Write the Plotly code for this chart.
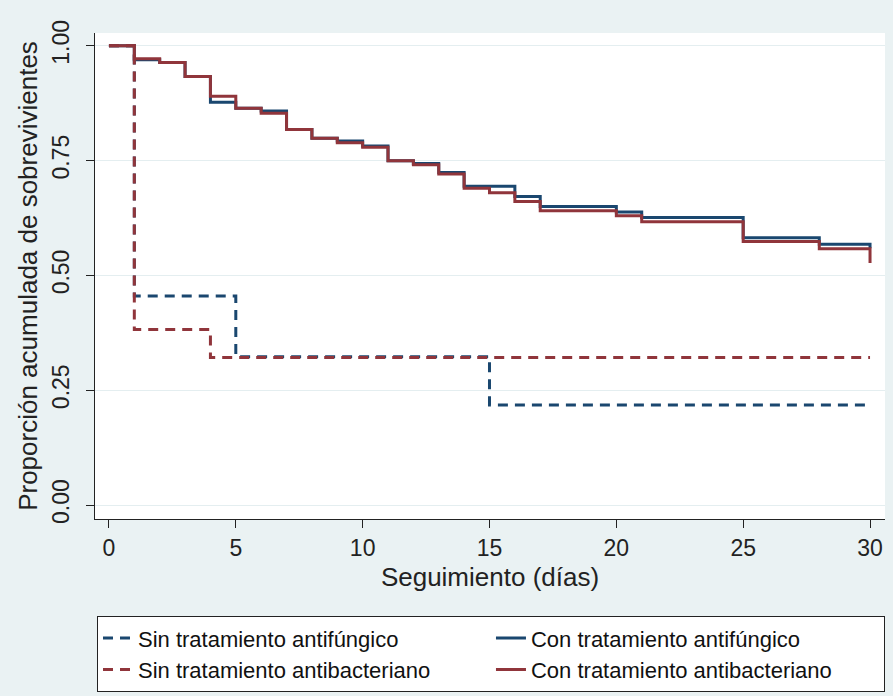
import plotly.graph_objects as go

# Kaplan-Meier estimates
t_sin_af = [0, 1, 5, 15, 30]
s_sin_af = [1.0, 0.455, 0.323, 0.218, 0.218]

t_con_af = [0, 1, 2, 3, 4, 5, 6, 7, 8, 9, 10, 11, 12, 13, 14, 16, 17, 20, 21, 25, 28, 30]
s_con_af = [1.0, 0.970, 0.964, 0.933, 0.877, 0.864, 0.858, 0.818, 0.799, 0.793, 0.782,
            0.750, 0.744, 0.724, 0.694, 0.672, 0.650, 0.638, 0.626, 0.582, 0.568, 0.559]

t_sin_ab = [0, 1, 4, 30]
s_sin_ab = [1.0, 0.382, 0.321, 0.321]

t_con_ab = [0, 1, 2, 3, 4, 5, 6, 7, 8, 9, 10, 11, 12, 13, 14, 15, 16, 17, 20, 21, 25, 28, 30]
s_con_ab = [1.0, 0.972, 0.964, 0.933, 0.890, 0.864, 0.853, 0.818, 0.799, 0.789, 0.779,
            0.750, 0.741, 0.721, 0.690, 0.680, 0.661, 0.641, 0.630, 0.617, 0.574, 0.558, 0.527]

names = ["Sin tratamiento antifúngico", "Con tratamiento antifúngico",
         "Sin tratamiento antibacteriano", "Con tratamiento antibacteriano"]

x_ticks = [0, 5, 10, 15, 20, 25, 30]
y_ticks = [0.0, 0.25, 0.5, 0.75, 1.0]
y_ticklabels = ["0.00", "0.25", "0.50", "0.75", "1.00"]

NAVY = "#1a476f"
MAROON = "#90353b"
BG = "#eaf2f3"
FONT = "Liberation Sans, Arial, sans-serif"

fig = go.Figure()
series = [
    (t_sin_af, s_sin_af, NAVY, "10px,7px", names[0]),
    (t_con_af, s_con_af, NAVY, "solid", names[1]),
    (t_sin_ab, s_sin_ab, MAROON, "10px,7px", names[2]),
    (t_con_ab, s_con_ab, MAROON, "solid", names[3]),
]
for t, s, c, d, n in series:
    fig.add_trace(go.Scatter(x=t, y=s, mode="lines", name=n,
                             line=dict(color=c, width=3, dash=d, shape="hv")))

fig.update_layout(
    width=893, height=696,
    margin=dict(l=95, r=8, t=33, b=177, autoexpand=False),
    paper_bgcolor=BG, plot_bgcolor="white",
    font=dict(family=FONT, color="#222222", size=23),
    showlegend=True,
    legend=dict(orientation="h", x=0.0025, xanchor="left", y=-0.200, yanchor="top",
                bgcolor="white", bordercolor="#222222", borderwidth=1,
                font=dict(size=22, family=FONT, color="#111111"),
                entrywidth=348, entrywidthmode="pixels", traceorder="normal",
                itemclick=False),
    xaxis=dict(range=[-0.55, 30.59], tickvals=x_ticks, ticks="outside", ticklen=8,
               tickcolor="#222222", showline=True, linecolor="#222222", linewidth=1,
               showgrid=False, zeroline=False, tickfont=dict(size=23),
               title=dict(text="Seguimiento (días)", font=dict(size=26), standoff=8)),
    yaxis=dict(range=[-0.0305, 1.028], tickvals=y_ticks, ticktext=y_ticklabels,
               tickangle=-90, ticks="outside", ticklen=8, tickcolor="#222222",
               ticklabelstandoff=8,
               showline=True, linecolor="#222222", linewidth=1,
               showgrid=True, gridcolor="#e4eef0", gridwidth=1, zeroline=False,
               tickfont=dict(size=23),
               title=dict(text="Proporción acumulada de sobrevivientes", font=dict(size=26),
                          standoff=2)),
)

fig.write_html("out.html", config={"displayModeBar": False},
               post_script="document.body.style.margin='0px';")
